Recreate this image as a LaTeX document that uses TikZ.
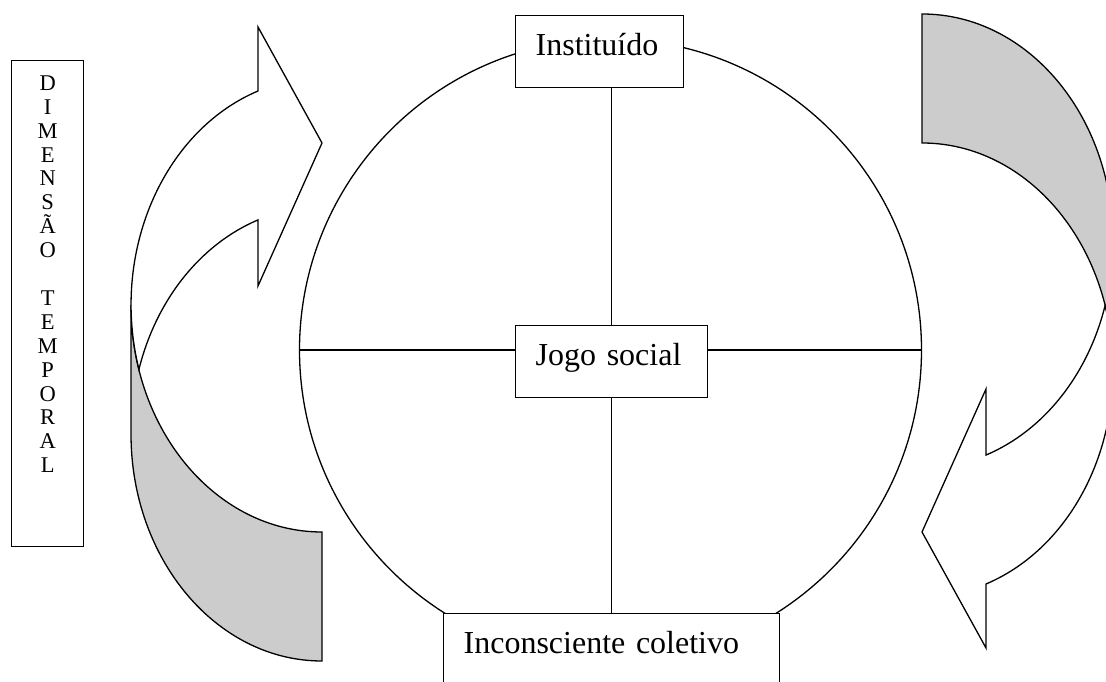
\documentclass[tikz,border=0pt]{standalone}
\usepackage{fontspec}
\setmainfont{Liberation Serif}

% curved arrow: grey back part, then the white front part with its head
\newcommand{\curvedarrow}{%
    \draw[back] (131,377) -- (131,248)
        arc[start angle=180, end angle=270, x radius=191pt, y radius=227pt]
        -- (322,150)
        arc[start angle=270, end angle=180, x radius=191pt, y radius=227pt] -- cycle;
    \draw[front] (258,591)
        arc[start angle=109.6, end angle=196.5, x radius=191pt, y radius=227pt]
        arc[start angle=163.5, end angle=109.6, x radius=191pt, y radius=227pt]
        -- (258,396) -- (322,539) -- (258,655) -- cycle;
}

\begin{document}
\begin{tikzpicture}[x=1pt,y=1pt,line width=1.3pt,
    back/.style={draw=black,fill=black!20,line join=miter},
    front/.style={draw=black,fill=white,line join=miter},
    box/.style={draw,fill=white,font=\fontsize{32}{38}\selectfont,inner ysep=0pt,
        inner xsep=20pt,align=left,text height=40pt,text depth=32pt,anchor=north west}]
    \useasboundingbox (0,0) rectangle (1106,682);
    \clip (0,0) rectangle (1106,682);

    \node[draw,circle,minimum size=622pt,inner sep=0pt] (ring) at (610.5,332) {};

    \node[box,text width=128pt] (inst) at (515,667) {Instituído};
    \node[box,text width=152pt] (jogo) at (515,357) {Jogo social};
    \node[box,text width=296pt,text depth=60pt] (inc) at (443,69) {Inconsciente coletivo};

    \draw (ring.west) -- (ring.west -| jogo.west);
    \draw (jogo.east |- ring.east) -- (ring.east);
    \draw (jogo.north) -- (jogo.north |- inst.south);
    \draw (jogo.south) -- (inc.north);

    % vertical label
    \node[draw,minimum width=72pt,minimum height=486pt,anchor=north west,inner sep=0pt] (dimbox) at (11,622) {};
    \node[font=\fontsize{22.5}{23.9}\selectfont,align=center,anchor=north,inner sep=0pt] (dimtext)
        at ([yshift=-15pt]dimbox.north) {D\\I\\M\\E\\N\\S\\Ã\\O\\\mbox{}\\T\\E\\M\\P\\O\\R\\A\\L};

    \curvedarrow
    \begin{scope}[rotate around={180:(622,344.5)}]
        \curvedarrow
    \end{scope}
\end{tikzpicture}
\end{document}
